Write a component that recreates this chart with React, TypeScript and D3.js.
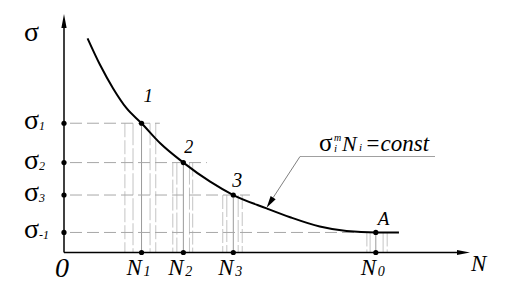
import React from "react";
import * as d3 from "d3";

// Curve samples (N, sigma in arbitrary units)
const curveN = [0.58, 0.89, 1.21, 1.54, 1.91, 2.37, 2.94, 3.6, 4.17, 4.99, 5.57, 6.3, 6.96, 7.68, 8.25];
const curveS = [8.98, 7.86, 6.88, 6.05, 5.42, 4.58, 3.77, 2.97, 2.41, 1.85, 1.48, 1.09, 0.9, 0.84, 0.84];

// Key points 1, 2, 3, A
const pointN = [1.91, 2.94, 4.17, 7.68];
const pointS = [5.42, 3.77, 2.41, 0.84];
const pointLabels = ["1", "2", "3", "A"];
const sigmaSubs = ["1", "2", "3", "-1"];
const nSubs = ["1", "2", "3", "0"];
// How far each horizontal dashed guide reaches
const guideEndN = [2.36, 3.52, 4.58, 7.68];
// Gray vertical guide lines around each N
const verticalN = [
  [1.5, 1.7, 1.91, 2.12, 2.26],
  [2.68, 2.78, 2.94, 3.09, 3.17],
  [3.91, 4.01, 4.17, 4.29, 4.39],
  [7.46, 7.54, 7.68, 7.86, 7.96],
];

const x = d3.scaleLinear().domain([0, 10]).range([64, 470]);
const y = d3.scaleLinear().domain([0, 10]).range([252.5, 14]);

const serif = "'Liberation Serif', 'Times New Roman', serif";

export default function App() {
  const data = curveN.map((n, i) => [n, curveS[i]] as [number, number]);
  const line = d3
    .line<[number, number]>()
    .x((d) => x(d[0]))
    .y((d) => y(d[1]))
    .curve(d3.curveMonotoneX);

  const x0 = x(0);
  const y0 = y(0);

  // leader line
  const lx1 = 300, ly1 = 156.5;
  const tipN = 4.99, tipS = 1.88;
  const tx = x(tipN), ty = y(tipS);
  const ang = Math.atan2(ty - ly1, tx - lx1);
  const aL = 12, aW = 3;
  const bx = tx - aL * Math.cos(ang), by = ty - aL * Math.sin(ang);
  const px = -Math.sin(ang), py = Math.cos(ang);

  return (
    <svg width={512} height={291} style={{ position: "absolute", left: 0, top: 0, background: "#fff" }}>
      <rect width={512} height={291} fill="#fff" />
      {/* vertical gray guides */}
      {verticalN.map((grp, gi) =>
        grp.map((n, j) => (
          <line
            key={`v${gi}-${j}`}
            x1={x(n)}
            x2={x(n)}
            y1={y(pointS[gi])}
            y2={y0}
            stroke={j === 2 ? "#9a9a9a" : "#c4c4c4"}
            strokeWidth={1}
            strokeDasharray={j === 2 ? undefined : j % 2 === 0 ? "14 3" : "22 3"}
          />
        ))
      )}
      {/* horizontal dashed guides */}
      {pointS.map((s, i) => (
        <line
          key={`h${i}`}
          x1={x0 + 6}
          x2={x(guideEndN[i])}
          y1={y(s)}
          y2={y(s)}
          stroke="#a8a8a8"
          strokeWidth={1}
          strokeDasharray="12 5"
        />
      ))}
      {/* axes */}
      <line x1={x0} y1={y0} x2={x0} y2={26} stroke="#000" strokeWidth={1.5} />
      <polygon points={`${x0},${y(10)} ${x0 - 2.6},${28} ${x0 + 2.6},${28}`} fill="#000" />
      <line x1={x0} y1={y0} x2={458} y2={y0} stroke="#000" strokeWidth={1.5} />
      <polygon points={`${x(10)},${y0} ${457},${y0 - 2.4} ${457},${y0 + 2.4}`} fill="#000" />
      {/* curve */}
      <path d={line(data) || ""} fill="none" stroke="#000" strokeWidth={2} />
      {/* dots */}
      {pointN.map((n, i) => (
        <g key={`d${i}`}>
          <circle cx={x(n)} cy={y(pointS[i])} r={2.6} fill="#000" />
          <circle cx={x(n)} cy={y0} r={2.6} fill="#000" />
          <circle cx={x0} cy={y(pointS[i])} r={2.6} fill="#000" />
        </g>
      ))}
      {/* leader */}
      <line x1={435} y1={156.5} x2={lx1} y2={ly1} stroke="#a0a0a0" strokeWidth={1} />
      <line x1={lx1} y1={ly1} x2={bx} y2={by} stroke="#808080" strokeWidth={1} />
      <polygon
        points={`${tx},${ty} ${bx + px * aW},${by + py * aW} ${bx - px * aW},${by - py * aW}`}
        fill="#000"
      />
      {/* axis labels */}
      <text x={24} y={41} fontFamily={serif} fontSize={28}>σ</text>
      <text x={471} y={271} fontFamily={serif} fontSize={23} fontStyle="italic">N</text>
      <text x={55} y={277} fontFamily={serif} fontSize={28} fontStyle="italic">0</text>
      {/* sigma labels */}
      {pointS.map((s, i) => (
        <g key={`sl${i}`} fontFamily={serif}>
          <text x={24} y={y(s) + 6} fontSize={28}>σ</text>
          <text x={39} y={y(s) + 7} fontSize={12} fontStyle="italic">{sigmaSubs[i]}</text>
        </g>
      ))}
      {/* N labels */}
      {pointN.map((n, i) => (
        <g key={`nl${i}`} fontFamily={serif} fontStyle="italic">
          <text x={x(n) - 15} y={275} fontSize={23}>N</text>
          <text x={x(n) + 2} y={276} fontSize={14}>{nSubs[i]}</text>
        </g>
      ))}
      {/* point labels */}
      {pointN.map((n, i) => (
        <text
          key={`pl${i}`}
          x={x(n) + [2, 1, -1, 2][i]}
          y={y(pointS[i]) - [21.5, 9.5, 8, 7.5][i]}
          fontFamily={serif}
          fontStyle="italic"
          fontSize={[19, 18, 20, 19][i]}
        >
          {pointLabels[i]}
        </text>
      ))}
      {/* formula */}
      <g fontFamily={serif}>
        <text x={319} y={151} fontSize={25}>σ</text>
        <text x={334} y={141} fontSize={10} fontStyle="italic">m</text>
        <text x={334} y={152} fontSize={11} fontStyle="italic">i</text>
        <text x={342} y={150.5} fontSize={22} fontStyle="italic">N</text>
        <text x={359} y={151} fontSize={11} fontStyle="italic">i</text>
        <text x={365} y={150.5} fontSize={23} fontStyle="italic">=const</text>
      </g>
    </svg>
  );
}
